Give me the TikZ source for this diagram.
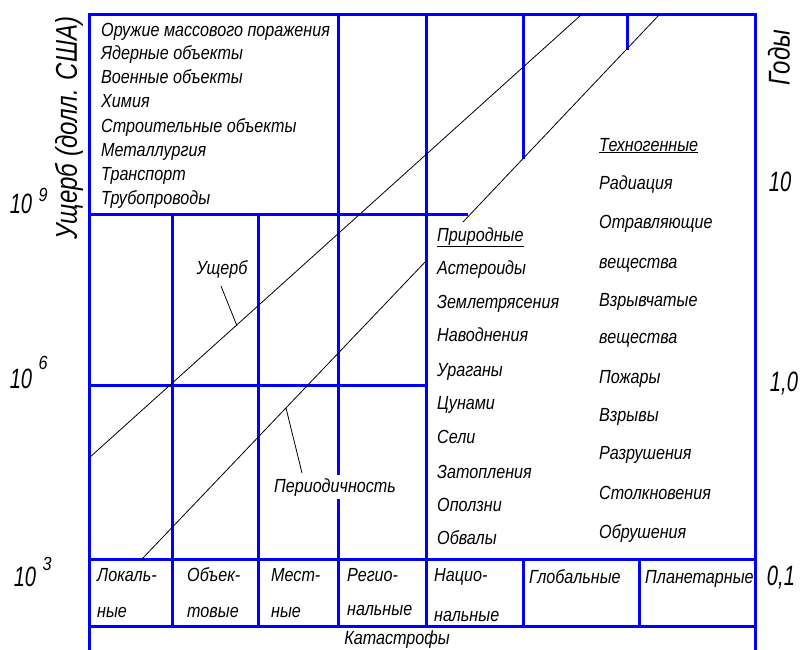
\documentclass[tikz,border=0pt]{standalone}
\usepackage{fontspec}
\newfontfamily\chartfont[FakeStretch=0.85]{Liberation Sans}
\newfontfamily\axisfont[FakeStretch=0.8]{Liberation Sans}
\newfontfamily\numfont[FakeStretch=0.72]{Liberation Sans}
\definecolor{gridblue}{RGB}{0,0,255}
\begin{document}
\begin{tikzpicture}[x=1pt,y=-1pt,
  gridline/.style={draw=gridblue,line width=3pt},
  diag/.style={draw=black,line width=0.8pt},
  lbl/.style={font=\chartfont\itshape\fontsize{19}{21}\selectfont,inner sep=0pt,anchor=base west},
  clbl/.style={font=\chartfont\itshape\fontsize{19}{21}\selectfont,inner sep=0pt,anchor=base},
  axl/.style={font=\axisfont\itshape\fontsize{30}{32}\selectfont,inner sep=0pt},
  numl/.style={font=\numfont\itshape\fontsize{28}{30}\selectfont,inner sep=0pt},
  supl/.style={font=\chartfont\itshape\fontsize{19}{21}\selectfont,inner sep=0pt}]
\useasboundingbox (0,0) rectangle (800,650);
\fill[white] (0,0) rectangle (800,650);
% ---- grid ----
\draw[gridline,line join=miter] (89,650) -- (89,15) -- (755,15) -- (755,650);
\draw[gridline] (89,214) -- (468,214);
\draw[gridline] (89,385) -- (426,385);
\draw[gridline] (89,559) -- (755,559);
\draw[gridline] (89,626) -- (755,626);
\draw[gridline] (172,214) -- (172,626);
\draw[gridline] (258,214) -- (258,626);
\draw[gridline] (338,15) -- (338,626);
\draw[gridline] (426,15) -- (426,626);
\draw[gridline] (523,15) -- (523,159);
\draw[gridline] (627,15) -- (627,50);
\draw[gridline] (523,559) -- (523,626);
\draw[gridline] (639,559) -- (639,626);
% ---- diagonals ----
\coordinate (d1a) at (89,458);
\coordinate (d1b) at (581,15);
\coordinate (d2a) at (142,559);
\coordinate (d2m1) at (427,260);
\coordinate (d2m2) at (463,222);
\coordinate (d2b) at (659,15);
\draw[diag] (d1a) -- (d1b);
\draw[diag] (d2a) -- (d2m1);
\draw[diag] (d2m2) -- (d2b);
% ---- top-left list ----
\node[lbl] (t1) at (101,37) {Оружие массового поражения};
\node[lbl] (t2) at (101,60) {Ядерные объекты};
\node[lbl] (t3) at (101,84) {Военные объекты};
\node[lbl] (t4) at (101,108) {Химия};
\node[lbl] (t5) at (101,132) {Строительные объекты};
\node[lbl] (t6) at (101,156) {Металлургия};
\node[lbl] (t7) at (101,180) {Транспорт};
\node[lbl] (t8) at (101,204) {Трубопроводы};
% ---- curve labels ----
\node[clbl] (ush) at (222,274) {Ущерб};
\coordinate (ushA) at (221,286);
\coordinate (ushB) at (237,326);
\draw[diag] (ushA) -- (ushB);
\node[clbl,fill=white,inner sep=3pt] (per) at (335,492) {Периодичность};
\coordinate (perA) at (286,408);
\coordinate (perB) at (302,473);
\draw[diag] (perA) -- (perB);
% ---- natural ----
\node[lbl] (n0) at (437,241) {\underline{Природные}};
\node[lbl] (n1) at (437,274) {Астероиды};
\node[lbl] (n2) at (437,308) {Землетрясения};
\node[lbl] (n3) at (437,341) {Наводнения};
\node[lbl] (n4) at (437,376) {Ураганы};
\node[lbl] (n5) at (437,409) {Цунами};
\node[lbl] (n6) at (437,443) {Сели};
\node[lbl] (n7) at (437,478) {Затопления};
\node[lbl] (n8) at (437,511) {Оползни};
\node[lbl] (n9) at (437,544) {Обвалы};
% ---- technogenic ----
\node[lbl] (m0) at (599,151) {\underline{Техногенные}};
\node[lbl] (m1) at (599,189) {Радиация};
\node[lbl] (m2) at (599,228) {Отравляющие};
\node[lbl] (m3) at (599,268) {вещества};
\node[lbl] (m4) at (599,306) {Взрывчатые};
\node[lbl] (m5) at (599,343) {вещества};
\node[lbl] (m6) at (599,383) {Пожары};
\node[lbl] (m7) at (599,421) {Взрывы};
\node[lbl] (m8) at (599,459) {Разрушения};
\node[lbl] (m9) at (599,499) {Столкновения};
\node[lbl] (m10) at (599,538) {Обрушения};
% ---- bottom row ----
\node[lbl] (b1a) at (97,581) {Локаль-};
\node[lbl] (b1b) at (97,617) {ные};
\node[lbl] (b2a) at (187,581) {Объек-};
\node[lbl] (b2b) at (187,617) {товые};
\node[lbl] (b3a) at (271,581) {Мест-};
\node[lbl] (b3b) at (271,617) {ные};
\node[lbl] (b4a) at (347,581) {Регио-};
\node[lbl] (b4b) at (347,615) {нальные};
\node[lbl] (b5a) at (434,581) {Нацио-};
\node[lbl] (b5b) at (434,621) {нальные};
\node[lbl] (b6) at (529,583) {Глобальные};
\node[lbl] (b7) at (645,583) {Планетарные};
\node[clbl] (kat) at (397,644) {Катастрофы};
% ---- axes ----
\node[axl,rotate=90] (yl) at (69,128) {Ущерб (долл. США)};
\node[axl,rotate=90] (yr) at (779,58) {Годы};
\node[numl] (l9) at (21,204) {10};
\node[supl] (s9) at (43,195) {9};
\node[numl] (l6) at (21,379) {10};
\node[supl] (s6) at (43,363) {6};
\node[numl] (l3) at (25,577) {10};
\node[supl] (s3) at (47,564) {3};
\node[numl] (r10) at (780,182) {10};
\node[numl] (r1) at (784,384) {1,0};
\node[numl] (r01) at (781,578) {0,1};
\end{tikzpicture}
\end{document}
